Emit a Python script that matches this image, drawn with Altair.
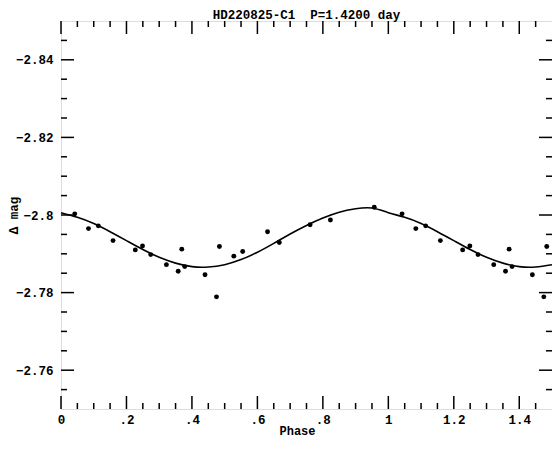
import altair as alt
import pandas as pd

# ---- data ----
phase = [0.042, 0.084, 0.114, 0.159, 0.227, 0.249, 0.274, 0.322, 0.358, 0.369, 0.378,
         0.440, 0.475, 0.484, 0.528, 0.555, 0.631, 0.667, 0.761, 0.823, 0.957]
dmag = [-2.8003, -2.7965, -2.7972, -2.7934, -2.7910, -2.7920, -2.7898, -2.7872, -2.7855, -2.7912, -2.7867,
        -2.7846, -2.7789, -2.7919, -2.7894, -2.7906, -2.7957, -2.7929, -2.7975, -2.7987, -2.8020]

curve_phase = [0.00, 0.05, 0.10, 0.15, 0.20, 0.25, 0.30, 0.35, 0.40, 0.45,
               0.50, 0.55, 0.60, 0.65, 0.70, 0.75, 0.80, 0.85, 0.90, 0.95,
               1.00, 1.05, 1.10, 1.15, 1.20, 1.25, 1.30, 1.35, 1.40, 1.45, 1.50]
curve_mag = [-2.8006, -2.7994, -2.7978, -2.7957, -2.7934, -2.7911, -2.7891, -2.7876, -2.7867, -2.7866,
             -2.7872, -2.7885, -2.7904, -2.7927, -2.7951, -2.7973, -2.7992, -2.8007, -2.8016, -2.8018,
             -2.8006, -2.7994, -2.7978, -2.7957, -2.7934, -2.7911, -2.7891, -2.7876, -2.7867, -2.7866,
             -2.7872]

x_major = [0, 0.2, 0.4, 0.6, 0.8, 1.0, 1.2, 1.4]
x_minor = [0.05, 0.1, 0.15, 0.25, 0.3, 0.35, 0.45, 0.5, 0.55, 0.65, 0.7, 0.75,
           0.85, 0.9, 0.95, 1.05, 1.1, 1.15, 1.25, 1.3, 1.35, 1.45]
y_major = [-2.84, -2.82, -2.80, -2.78, -2.76]
y_minor = [-2.845, -2.835, -2.83, -2.825, -2.815, -2.81, -2.805, -2.795, -2.79, -2.785,
           -2.775, -2.77, -2.765, -2.755]

TITLE = "HD220825-C1\u00a0\u00a0P=1.4200 day"
FONT = "Liberation Mono"
W, H = 491, 388
MAJ, MIN = 13, 6

# ---- tables ----
pts = pd.DataFrame({"phase": phase, "dmag": dmag})
rep = pts[pts["phase"] + 1 <= 1.5].copy()
rep["phase"] = rep["phase"] + 1
points_df = pd.concat([pts, rep], ignore_index=True)
curve_df = pd.DataFrame({"phase": curve_phase, "dmag": curve_mag})

xs = alt.Scale(domain=[0, 1.5], nice=False, zero=False)
ys = alt.Scale(domain=[-2.85, -2.75], reverse=True, nice=False, zero=False)

x_axis = alt.Axis(
    values=x_major, ticks=False, domain=False, grid=False,
    labelExpr="datum.value > 0 && datum.value < 1 ? replace(format(datum.value, '.1f'), '0.', '.') : format(datum.value, '.1~f')",
    labelFont=FONT, labelFontSize=12.5, labelFontWeight="bold", labelColor="black",
    labelPadding=4, labelFlush=False,
    title="Phase", titleFont=FONT, titleFontSize=12, titleFontWeight="bold", titleColor="black",
    titleX=236, titleY=25, titleBaseline="alphabetic",
)
y_axis = alt.Axis(
    values=y_major, ticks=False, domain=False, grid=False,
    labelExpr="format(datum.value, '.2~f')",
    labelFont=FONT, labelFontSize=12.5, labelFontWeight="bold", labelColor="black",
    labelPadding=8, labelFlush=False,
    title="Δ mag", titleFont=FONT, titleFontSize=12.5, titleFontWeight="bold", titleColor="black",
    titleX=-44, titleBaseline="alphabetic",
)

points = alt.Chart(points_df).mark_circle(size=24, color="black", opacity=1).encode(
    x=alt.X("phase:Q", scale=xs, axis=x_axis),
    y=alt.Y("dmag:Q", scale=ys, axis=y_axis),
)
line = alt.Chart(curve_df).mark_line(color="black", strokeWidth=1.6, interpolate="natural").encode(
    x=alt.X("phase:Q", scale=xs),
    y=alt.Y("dmag:Q", scale=ys),
)


def xticks(vals, length):
    df = pd.DataFrame({"phase": vals})
    bottom = alt.Chart(df).mark_rule(color="black", strokeWidth=1.5).encode(
        x=alt.X("phase:Q", scale=xs), y=alt.value(H), y2=alt.value(H - length))
    top = alt.Chart(df).mark_rule(color="black", strokeWidth=1.5).encode(
        x=alt.X("phase:Q", scale=xs), y=alt.value(0), y2=alt.value(length))
    return [bottom, top]


def yticks(vals, length):
    df = pd.DataFrame({"dmag": vals})
    left = alt.Chart(df).mark_rule(color="black", strokeWidth=1.5).encode(
        y=alt.Y("dmag:Q", scale=ys), x=alt.value(0), x2=alt.value(length))
    right = alt.Chart(df).mark_rule(color="black", strokeWidth=1.5).encode(
        y=alt.Y("dmag:Q", scale=ys), x=alt.value(W), x2=alt.value(W - length))
    return [left, right]


layers = [points, line] + xticks(x_major, MAJ) + xticks(x_minor, MIN) + yticks(y_major, MAJ) + yticks(y_minor, MIN)

chart = alt.layer(*layers).properties(
    width=W, height=H,
    title=alt.TitleParams(TITLE, font=FONT, fontSize=12.5, fontWeight="bold", color="black",
                          offset=-1, anchor="middle"),
    padding={"left": 53, "top": 13, "right": 0, "bottom": 29},
    autosize=alt.AutoSizeParams(type="none"),
).configure_view(stroke="black", strokeWidth=2).configure(background="white")

chart.save("out.html", embed_options={"renderer": "svg", "actions": False})
